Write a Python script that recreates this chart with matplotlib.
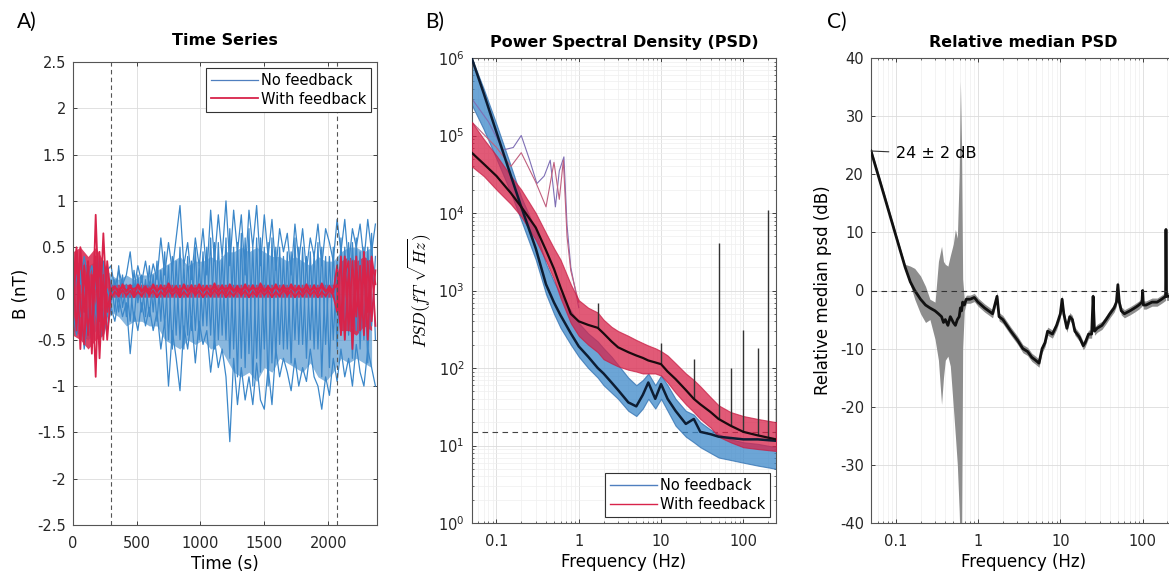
import numpy as np
import matplotlib
matplotlib.use('Agg')
import matplotlib.pyplot as plt

plt.rcParams['font.family'] = ['DejaVu Sans']
plt.rcParams['font.size'] = 10.5
plt.rcParams['axes.unicode_minus'] = False
plt.rcParams['mathtext.fontset'] = 'dejavusans'
for k in ('xtick', 'ytick'):
    plt.rcParams[f'{k}.direction'] = 'in'
plt.rcParams['xtick.top'] = True
plt.rcParams['ytick.right'] = True

# ---------------- A) time series (30 s samples) ----------------
t_s = np.arange(0, 2400, 30)
t_core = np.arange(0, 2400, 60)
t_markers = [300, 2070]

blue_1 = [0.2, 0.35, 0.1, 0.4, 0.15, 0.3, 0.05, 0.38, 0.12, 0.25,
          0.3, 0.05, 0.25, 0.1, 0.2, 0.45, 0.05, 0.3, 0.12, 0.35,
          0.08, 0.32, 0.15, 0.6, 0.2, 0.55, 0.25, 0.6, 0.95, 0.3,
          0.55, 0.15, 0.6, 0.3, 0.7, 0.2, 0.9, 0.35, 0.85, 0.4,
          1.0, 0.3, 0.9, 0.45, 0.85, 0.2, 0.9, 0.5, 0.95, 0.3,
          0.85, 0.4, 0.8, 0.25, 0.7, 0.45, 0.65, 0.2, 0.75, 0.35,
          0.7, 0.25, 0.6, 0.4, 0.75, 0.3, 0.7, 0.55, 0.35, 0.8,
          0.45, 0.8, 0.3, 0.7, 0.5, 0.75, 0.35, 0.8, 0.45, 0.75]
blue_2 = [-0.2, -0.45, -0.1, -0.6, -0.25, -0.5, -0.15, -0.55, -0.3, -0.4,
          -0.15, -0.3, -0.05, -0.25, -0.1, -0.65, -0.2, -0.4, -0.1, -0.35,
          -0.15, -0.4, -0.2, -0.6, -0.3, -1.0, -0.4, -0.7, -1.05, -0.35,
          -0.6, -0.25, -0.75, -0.3, -0.55, -0.4, -0.85, -0.5, -0.8, -0.6,
          -0.9, -1.6, -0.7, -1.2, -0.8, -1.15, -0.9, -1.2, -0.75, -1.15,
          -1.25, -0.8, -1.2, -0.6, -0.9, -0.7, -0.85, -1.05, -0.7, -1.0,
          -0.8, -0.95, -0.6, -0.9, -1.0, -1.25, -0.9, -1.1, -0.7, -0.95,
          -0.6, -0.9, -0.7, -1.0, -0.55, -0.85, -1.0, -0.6, -0.8, -1.0]
blue_3 = [0.1, -0.3, 0.25, -0.2, 0.3, -0.35, 0.2, -0.1, 0.35, -0.25,
          0.15, -0.2, 0.3, -0.15, 0.1, -0.3, 0.25, -0.1, 0.2, -0.25,
          0.3, -0.2, 0.35, -0.3, 0.45, -0.5, 0.4, -0.45, 0.5, -0.6,
          0.4, -0.4, 0.5, -0.5, 0.45, -0.35, 0.6, -0.6, 0.55, -0.45,
          0.6, -0.7, 0.5, -0.9, 0.65, -0.8, 0.7, -1.0, 0.6, -0.85,
          0.5, -1.0, 0.6, -0.7, 0.5, -0.6, 0.45, -0.75, 0.6, -0.55,
          0.5, -0.7, 0.45, -0.6, 0.55, -0.9, 0.4, -0.8, 0.5, -0.6,
          0.6, -0.5, 0.55, -0.7, 0.6, -0.6, 0.5, -0.75, 0.65, -0.5]
blue_4 = [-0.05, 0.2, -0.25, 0.1, -0.35, 0.15, -0.2, 0.25, -0.3, 0.05,
          -0.1, 0.15, -0.2, 0.2, -0.25, 0.1, -0.3, 0.2, -0.2, 0.15,
          -0.25, 0.2, -0.3, 0.25, -0.35, 0.3, -0.6, 0.35, -0.5, 0.3,
          -0.45, 0.35, -0.4, 0.3, -0.35, 0.5, -0.45, 0.55, -0.5, 0.4,
          -0.5, 0.7, -0.6, 0.55, -0.7, 0.6, -0.65, 0.5, -0.7, 0.6,
          -0.6, 0.55, -0.75, 0.5, -0.55, 0.4, -0.6, 0.45, -0.5, 0.5,
          -0.55, 0.4, -0.5, 0.45, -0.6, 0.5, -0.55, 0.4, -0.5, 0.35,
          -0.4, 0.5, -0.45, 0.55, -0.4, 0.45, -0.5, 0.5, -0.35, 0.4]
# dense core of the no-feedback traces (60 s samples)
blue_core_hi = [0.3, 0.35, 0.3, 0.35, 0.3, 0.2, 0.15, 0.2, 0.15, 0.2,
                0.2, 0.25, 0.3, 0.35, 0.4, 0.3, 0.35, 0.35, 0.4, 0.35,
                0.45, 0.45, 0.5, 0.45, 0.5, 0.45, 0.4, 0.4, 0.35, 0.4,
                0.35, 0.3, 0.4, 0.35, 0.35, 0.45, 0.5, 0.5, 0.45, 0.5]
blue_core_lo = [-0.4, -0.45, -0.5, -0.4, -0.45, -0.2, -0.25, -0.35, -0.3, -0.3,
                -0.35, -0.35, -0.5, -0.55, -0.6, -0.5, -0.55, -0.5, -0.6, -0.55,
                -0.7, -0.85, -0.9, -0.85, -0.95, -0.8, -0.85, -0.7, -0.75, -0.8,
                -0.85, -0.75, -0.9, -0.95, -0.85, -0.7, -0.75, -0.7, -0.75, -0.8]
red_1 = [0.3, -0.4, 0.5, -0.2, 0.35, -0.5, 0.85, -0.3, 0.65, -0.2,
         0.05, 0.08, 0.0, 0.1, 0.02, 0.09, -0.01, 0.1, 0.03, 0.08,
         0.0, 0.1, 0.02, 0.09, 0.01, 0.11, 0.03, 0.08, -0.01, 0.1,
         0.02, 0.09, 0.0, 0.1, 0.03, 0.08, 0.01, 0.11, 0.02, 0.09,
         0.0, 0.1, 0.03, 0.08, 0.01, 0.1, 0.02, 0.09, 0.0, 0.11,
         0.03, 0.08, 0.01, 0.1, 0.02, 0.09, 0.0, 0.1, 0.03, 0.08,
         0.01, 0.1, 0.02, 0.09, 0.0, 0.11, 0.02, 0.08, 0.01, 0.3,
         -0.3, 0.4, -0.4, 0.35, -0.25, 0.3, -0.45, 0.35, -0.3, 0.25]
red_2 = [-0.3, 0.45, -0.6, 0.3, -0.45, 0.2, -0.9, 0.45, -0.5, 0.35,
         -0.05, 0.02, -0.03, 0.04, -0.02, 0.03, -0.04, 0.02, -0.03, 0.04,
         -0.02, 0.03, -0.04, 0.02, -0.03, 0.04, -0.02, 0.03, -0.04, 0.02,
         -0.03, 0.04, -0.02, 0.03, -0.04, 0.02, -0.03, 0.04, -0.02, 0.03,
         -0.04, 0.02, -0.03, 0.04, -0.02, 0.03, -0.04, 0.02, -0.03, 0.04,
         -0.02, 0.03, -0.04, 0.02, -0.03, 0.04, -0.02, 0.03, -0.04, 0.02,
         -0.03, 0.04, -0.02, 0.03, -0.04, 0.02, -0.03, 0.04, -0.02, -0.2,
         0.4, -0.5, 0.25, -0.35, 0.4, -0.4, 0.3, -0.5, 0.35, -0.35]
red_3 = [0.1, 0.5, -0.1, -0.55, 0.25, -0.65, 0.4, -0.7, 0.2, -0.5,
         0.02, 0.06, 0.04, 0.07, 0.03, 0.06, 0.05, 0.07, 0.02, 0.06,
         0.04, 0.07, 0.03, 0.06, 0.05, 0.07, 0.02, 0.06, 0.04, 0.07,
         0.03, 0.06, 0.05, 0.07, 0.02, 0.06, 0.04, 0.07, 0.03, 0.06,
         0.05, 0.07, 0.02, 0.06, 0.04, 0.07, 0.03, 0.06, 0.05, 0.07,
         0.02, 0.06, 0.04, 0.07, 0.03, 0.06, 0.05, 0.07, 0.02, 0.06,
         0.04, 0.07, 0.03, 0.06, 0.05, 0.07, 0.02, 0.06, 0.04, 0.1,
         -0.45, 0.2, 0.35, -0.6, 0.2, -0.3, 0.45, -0.2, 0.4, 0.1]
red_core_hi = [0.45, 0.5, 0.4, 0.5, 0.35, 0.1, 0.1, 0.1, 0.1, 0.1,
               0.1, 0.1, 0.1, 0.1, 0.1, 0.1, 0.1, 0.1, 0.1, 0.1,
               0.1, 0.1, 0.1, 0.1, 0.1, 0.1, 0.1, 0.1, 0.1, 0.1,
               0.1, 0.1, 0.1, 0.1, 0.1, 0.35, 0.4, 0.35, 0.4, 0.35]
red_core_lo = [-0.45, -0.5, -0.6, -0.5, -0.45, -0.04, -0.04, -0.04, -0.04, -0.04,
               -0.04, -0.04, -0.04, -0.04, -0.04, -0.04, -0.04, -0.04, -0.04, -0.04,
               -0.04, -0.04, -0.04, -0.04, -0.04, -0.04, -0.04, -0.04, -0.04, -0.04,
               -0.04, -0.04, -0.04, -0.04, -0.04, -0.4, -0.4, -0.45, -0.35, -0.4]

# ---------------- B) PSD ----------------
f_grid = [0.05, 0.07, 0.1, 0.15, 0.2, 0.3, 0.4, 0.5, 0.6, 0.8, 1, 1.3, 1.7,
          2, 2.5, 3, 4, 5, 6, 7, 8.5, 10, 12, 15, 20, 25, 30, 40, 50, 70,
          100, 150, 250]
nf_lo = [2.5e5, 1.2e5, 5e4, 1.8e4, 8e3, 2.5e3, 900, 500, 330, 200, 140, 100,
         75, 60, 48, 40, 28, 24, 30, 40, 30, 40, 28, 18, 13, 11, 9.5, 8, 7,
         6.5, 6, 5.5, 5]
nf_hi = [1e6, 4e5, 1.4e5, 4e4, 1.6e4, 6e3, 2.2e3, 1.3e3, 900, 550, 380, 280,
         220, 180, 140, 110, 75, 60, 70, 85, 60, 80, 60, 40, 28, 25, 20, 16,
         14, 12, 11, 10.5, 9.5]
wf_lo = [4e4, 3e4, 2e4, 1.3e4, 9e3, 4.5e3, 2.4e3, 1.4e3, 800, 380, 260, 200,
         160, 130, 115, 105, 95, 90, 85, 85, 85, 80, 65, 48, 34, 27, 22, 17,
         13, 11, 9.5, 9, 8.5]
wf_hi = [1.5e5, 9e4, 5.5e4, 3e4, 2e4, 1e4, 5.5e3, 3.5e3, 2.5e3, 1.2e3, 750,
         600, 520, 420, 340, 300, 260, 230, 210, 195, 180, 165, 145, 115, 85,
         70, 58, 42, 33, 27, 24, 22, 20]
nf_med = [1e6, 3.5e5, 1.1e5, 3e4, 1.2e4, 3.5e3, 1.2e3, 700, 480, 280, 190,
          140, 100, 85, 65, 52, 36, 32, 45, 65, 40, 62, 40, 28, 19, 22, 15,
          14, 13, 12.5, 12, 12, 11.5]
wf_med = [6e4, 4.3e4, 3e4, 1.8e4, 1.2e4, 6.5e3, 3.3e3, 1.9e3, 1.1e3, 500,
          400, 360, 330, 280, 220, 185, 160, 145, 135, 125, 118, 112, 90, 72,
          52, 40, 34, 27, 22, 18, 15, 13.5, 12]
osc1_f = [0.05, 0.08, 0.12, 0.16, 0.2, 0.25, 0.31, 0.38, 0.45, 0.52, 0.58,
          0.66, 0.72, 0.8, 1.0]
osc1_v = [3e5, 1.5e5, 6.5e4, 7e4, 1e5, 5e4, 2.4e4, 3e4, 4.8e4, 1.2e4, 3.5e4,
          5.3e4, 7e3, 2e3, 600]
osc2_f = [0.05, 0.1, 0.15, 0.2, 0.3, 0.4, 0.5, 0.58, 0.65, 0.72, 0.8, 1.0]
osc2_v = [1.5e5, 7e4, 4e4, 6e4, 2.5e4, 1.2e4, 4.5e4, 1.5e4, 4.8e4, 5e3,
          1.8e3, 700]
spike_f = [1.7, 10, 25, 50, 70, 100, 150, 200, 250]
spike_lo = [330, 112, 40, 22, 18, 15, 13.5, 12.5, 12]
spike_hi = [700, 210, 130, 4100, 100, 310, 180, 11000, 40]
psd_floor = 15

# ---------------- C) relative median PSD (dB) ----------------
c_f = [0.05, 0.07, 0.1, 0.13, 0.15, 0.17, 0.2, 0.23, 0.26, 0.3, 0.33, 0.36,
       0.38, 0.4, 0.43, 0.46, 0.5, 0.53, 0.56, 0.59, 0.61, 0.63, 0.65, 0.68,
       0.72, 0.8, 0.9, 1.0, 1.2, 1.5, 1.7, 1.8, 2.0, 2.5, 3, 3.5, 4, 4.5, 5,
       5.5, 6, 6.5, 7, 8, 9, 10, 10.5, 11, 12, 13, 14, 15, 17, 19, 20, 22, 24,
       25, 26, 28, 32, 36, 40, 45, 48, 50, 52, 55, 60, 70, 80, 90, 98, 100,
       102, 110, 130, 150, 170, 190, 192, 195, 210, 240, 260]
c_med = [24, 17, 9.5, 4, 1.5, 0, -1.5, -2.5, -3, -3.5, -4, -4.5, -5.5, -5, -6,
         -4.5, -5.5, -6, -5, -4.5, -3, -3.5, -2, -2.5, -1.5, -1.5, -1.2, -2, -3,
         -4, -1, -4.5, -5, -7, -8.5, -10, -10.5, -11.5, -12, -12.5, -10, -9, -7,
         -7.5, -6, -4, -1.5, -4, -6.5, -4.5, -5, -7, -8, -9.5, -9, -7.5, -7.5,
         -1, -7, -6.5, -6, -5, -4, -3, -2, 1, -2, -3.5, -4, -3.5, -3, -2.5, -2,
         0, -2.5, -2.5, -2, -2, -1.5, -1, 10.5, -1, -1, -0.5, -0.5]
c_hi = [24.5, 17.5, 10, 4.5, 4.2, 3.8, 2.5, 0.7, -1.5, -2, 5, 7.6, 5, 4.5,
        4.2, 6, 8, 10.5, 9, 20, 36, 25, 2, -1.5, -0.8, -0.8, -0.5, -1.3, -2.3,
        -3.3, -0.3, -3.8, -4.3, -6.3, -7.8, -9.3, -9.8, -10.8, -11.3, -11.8,
        -9.3, -8.3, -6.3, -6.8, -5.3, -3.3, -0.8, -3.3, -5.8, -3.8, -4.3, -6.3,
        -7.3, -8.8, -8.3, -6.8, -6.8, -0.3, -6.3, -5.8, -5.3, -4.3, -3.3, -2.3,
        -1.3, 1.7, -1.3, -2.8, -3.3, -2.8, -2.3, -1.8, -1.3, 0.7, -1.8, -1.8,
        -1.3, -1.3, -0.8, -0.3, 11.2, -0.3, -0.3, 0.2, 0.2]
c_lo = [23.5, 16.5, 9, 3.5, 1, -1.5, -4, -5.5, -5, -8.4, -12, -19.6, -15,
        -12, -11.3, -13, -20, -25, -30, -38, -45, -45, -10, -3.5, -2.2, -2.2,
        -1.9, -2.7, -3.7, -4.7, -1.7, -5.2, -5.7, -7.7, -9.2, -10.7, -11.2,
        -12.2, -12.7, -13.2, -10.7, -9.7, -7.7, -8.2, -6.7, -4.7, -2.2, -4.7,
        -7.2, -5.2, -5.7, -7.7, -8.7, -10.2, -9.7, -8.2, -8.2, -1.7, -7.7,
        -7.2, -6.7, -5.7, -4.7, -3.7, -2.7, 0.3, -2.7, -4.2, -4.7, -4.2, -3.7,
        -3.2, -2.7, -0.7, -3.2, -3.2, -2.7, -2.7, -2.2, -1.7, 9.8, -1.7, -1.7,
        -1.2, -1.2]

BLUE = '#3b87c9'
RED = '#d8234a'
GRID = '#dcdcdc'
AX_COL = '#262626'


def style_axes(ax):
    for s in ax.spines.values():
        s.set_color('#555555')
        s.set_linewidth(0.8)
    ax.tick_params(colors=AX_COL, labelsize=10.5, length=3, width=0.6)
    ax.tick_params(axis='x', pad=8)
    ax.tick_params(axis='y', pad=5)
    ax.tick_params(which='minor', length=1.5, width=0.4)


def style_legend(leg):
    leg.get_frame().set_linewidth(0.8)
    leg.get_frame().set_edgecolor('#333333')


W, H = 1169, 586
fig = plt.figure(figsize=(W / 100, H / 100), dpi=100)

# ---- panel A
axA = fig.add_axes([72.7 / W, 1 - 525 / H, 304 / W, 463 / H])
axA.grid(True, color=GRID, lw=0.6)
axA.set_axisbelow(True)
axA.fill_between(t_core, blue_core_lo, blue_core_hi, color=BLUE, alpha=0.6, lw=0)
for i, tr in enumerate([blue_1, blue_2, blue_3, blue_4]):
    axA.plot(t_s, tr, color=BLUE, lw=0.9, label='No feedback' if i == 0 else None)
axA.fill_between(t_core, red_core_lo, red_core_hi, color=RED, alpha=0.85, lw=0)
for i, tr in enumerate([red_1, red_2, red_3]):
    axA.plot(t_s, tr, color=RED, lw=1.3, label='With feedback' if i == 0 else None)
for tm in t_markers:
    axA.axvline(tm, color='#555555', ls='--', lw=0.8, dashes=(4, 3))
axA.set_xlim(0, 2380)
axA.set_ylim(-2.5, 2.5)
axA.set_xticks([0, 500, 1000, 1500, 2000])
axA.set_yticks(np.arange(-2.5, 2.51, 0.5))
axA.set_yticklabels(['-2.5', '-2', '-1.5', '-1', '-0.5', '0', '0.5', '1',
                     '1.5', '2', '2.5'])
axA.set_xlabel('Time (s)', fontsize=12, labelpad=3)
axA.set_ylabel('B (nT)', fontsize=12, labelpad=5)
axA.set_title('Time Series', fontsize=11.5, fontweight='bold', pad=12)
leg = axA.legend(loc='upper right', fontsize=10.5, fancybox=False,
                 framealpha=1, handlelength=3.2, borderpad=0.35,
                 labelspacing=0.25, handletextpad=0.2, borderaxespad=0.4)
leg.get_lines()[0].set_color('#4f7fbf')
style_legend(leg)
style_axes(axA)

# ---- panel B
axB = fig.add_axes([471.7 / W, 1 - 523 / H, 304.4 / W, 465 / H])
axB.set_xscale('log')
axB.set_yscale('log')
axB.grid(True, which='major', color=GRID, lw=0.6)
axB.grid(True, which='minor', color='#efefef', lw=0.5)
axB.set_axisbelow(True)
axB.axhline(psd_floor, color='#444444', ls='--', lw=0.8, dashes=(5, 4), zorder=1)
axB.fill_between(f_grid, nf_lo, nf_hi, color=BLUE, alpha=0.75, lw=0.8,
                 edgecolor='#2f6fb0', zorder=2)
axB.plot(osc1_f, osc1_v, color='#7f6fb5', lw=0.8, zorder=2)
axB.plot(osc2_f, osc2_v, color='#c0607f', lw=0.8, zorder=2)
axB.fill_between(f_grid, wf_lo, wf_hi, color=RED, alpha=0.75, lw=0.8,
                 edgecolor='#c81e44', zorder=3)
axB.vlines(spike_f, spike_lo, spike_hi, color='#333333', lw=1.0, zorder=4)
axB.plot(f_grid, nf_med, color='#0d1d33', lw=1.8, zorder=5)
axB.plot(f_grid, wf_med, color='#1a0a0e', lw=1.6, zorder=5)
axB.plot([], [], color='#4f7fbf', lw=1, label='No feedback')
axB.plot([], [], color=RED, lw=1, label='With feedback')
axB.set_xlim(0.05, 250)
axB.set_ylim(1, 1e6)
axB.set_xticks([0.1, 1, 10, 100])
axB.set_xticklabels(['0.1', '1', '10', '100'])
axB.set_yticks([1, 10, 100, 1e3, 1e4, 1e5, 1e6])
axB.set_yticklabels([f'$10^{{{k}}}$' for k in range(7)])
axB.set_xlabel('Frequency (Hz)', fontsize=12, labelpad=3)
axB.set_ylabel(r'$PSD(fT\ \sqrt{Hz})$', fontsize=12.5, labelpad=4,
               math_fontfamily='cm')
axB.set_title('Power Spectral Density (PSD)', fontsize=11.5, fontweight='bold',
              pad=8)
leg = axB.legend(loc='lower right', fontsize=10.5, fancybox=False,
                 framealpha=1, handlelength=3.2, borderpad=0.35,
                 labelspacing=0.25, handletextpad=0.2, borderaxespad=0.4)
style_legend(leg)
style_axes(axB)

# ---- panel C
axC = fig.add_axes([871 / W, 1 - 523 / H, 304.4 / W, 465 / H])
axC.set_xscale('log')
axC.grid(True, which='major', color=GRID, lw=0.6)
axC.grid(True, which='minor', axis='x', color='#efefef', lw=0.5)
axC.set_axisbelow(True)
axC.fill_between(c_f, c_lo, c_hi, color='#8e8e8e', lw=0, zorder=2)
axC.plot(c_f, c_med, color='#111111', lw=2.0, zorder=3)
axC.axhline(0, color='#333333', ls='--', lw=0.8, dashes=(5, 4), zorder=4)
axC.annotate('24 ± 2 dB', xy=(c_f[0], c_med[0]), xytext=(0.1, 23.5),
             fontsize=11.5, va='center', ha='left',
             arrowprops=dict(arrowstyle='-', color='#333333', lw=0.8,
                             shrinkA=3, shrinkB=0))
axC.set_xlim(0.05, 250)
axC.set_ylim(-40, 40)
axC.set_xticks([0.1, 1, 10, 100])
axC.set_xticklabels(['0.1', '1', '10', '100'])
axC.set_yticks(range(-40, 41, 10))
axC.set_xlabel('Frequency (Hz)', fontsize=12, labelpad=3)
axC.set_ylabel('Relative median psd (dB)', fontsize=12, labelpad=6)
axC.set_title('Relative median PSD', fontsize=11.5, fontweight='bold', pad=8)
style_axes(axC)

for lbl, x in (('A)', 17), ('B)', 425), ('C)', 827)):
    fig.text(x / W, 1 - 22 / H, lbl, fontsize=15, family=['Lato', 'DejaVu Sans'],
             va='center', ha='left')

fig.savefig('out.png', dpi=100)
